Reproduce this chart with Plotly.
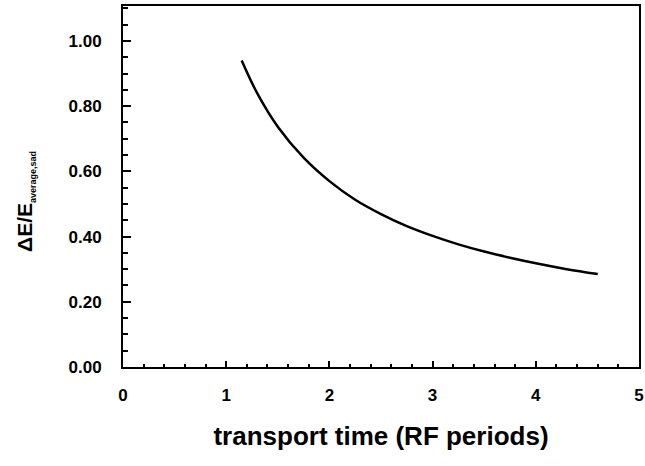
import plotly.graph_objects as go

# Energy spread vs. transport time
transport_time = [1.15, 1.3, 1.5, 1.75, 2.0, 2.25, 2.5, 2.75, 3.0, 3.25, 3.5, 3.75, 4.0, 4.3, 4.6]
energy_spread = [0.94, 0.84, 0.737, 0.642, 0.57, 0.513, 0.469, 0.432, 0.402, 0.376, 0.354, 0.335, 0.318, 0.30, 0.285]

x_ticks = [0, 1, 2, 3, 4, 5]
y_ticks = [0.0, 0.2, 0.4, 0.6, 0.8, 1.0]
y_tick_text = ["0.00", "0.20", "0.40", "0.60", "0.80", "1.00"]

FONT = "Liberation Sans, Arial, sans-serif"

fig = go.Figure()
fig.add_trace(go.Scatter(
    x=transport_time, y=energy_spread, mode="lines",
    line=dict(color="black", width=2.5, shape="spline", smoothing=1.0),
    showlegend=False, hoverinfo="skip",
))

axis_common = dict(
    showgrid=False, zeroline=False, showline=True, linecolor="black",
    linewidth=2, mirror=True, ticks="inside", tickcolor="black",
    tickwidth=1.5, automargin=False,
    tickfont=dict(family=FONT, size=17, color="black", weight="bold"),
)

fig.update_xaxes(
    range=[0, 5], tickvals=x_ticks, ticklen=6,
    minor=dict(dtick=0.2, ticks="inside", ticklen=3, tickcolor="black", tickwidth=1.5),
    title=dict(text="<b>transport time (RF periods)</b>",
               font=dict(family=FONT, size=26, color="black"), standoff=22),
    ticklabelstandoff=12,
    **axis_common,
)
fig.update_yaxes(
    range=[0, 1.107], tickvals=y_ticks, ticktext=y_tick_text, ticklen=8,
    minor=dict(dtick=0.05, ticks="inside", ticklen=5, tickcolor="black", tickwidth=1.5),
    ticklabelstandoff=16,
    **axis_common,
)

fig.add_annotation(
    xref="paper", yref="paper", x=-0.188, y=0.46,
    xanchor="center", yanchor="middle", textangle=-90, showarrow=False,
    text="<b>ΔE/E<sub><span style='font-size:9px'>average,sad</span></sub></b>",
    font=dict(family=FONT, size=21, color="black"),
)

fig.update_layout(
    width=645, height=466,
    margin=dict(l=123, r=6, t=6, b=99),
    paper_bgcolor="white", plot_bgcolor="white",
)

fig.write_html("out.html")
